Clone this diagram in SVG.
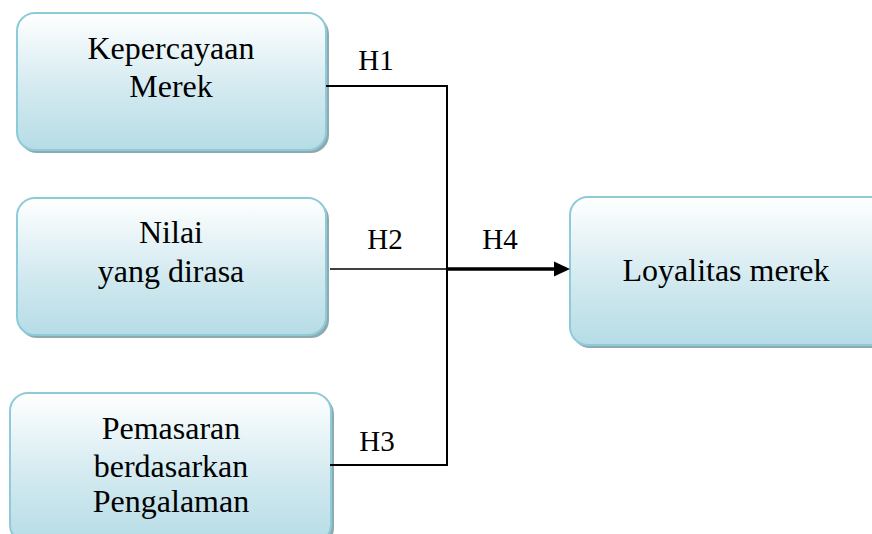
<svg xmlns="http://www.w3.org/2000/svg" width="872" height="534" viewBox="0 0 872 534">
<defs>
<linearGradient id="g" x1="0" y1="0" x2="0" y2="1">
<stop offset="0" stop-color="#ffffff"/>
<stop offset="0.55" stop-color="#d3eaf0"/>
<stop offset="1" stop-color="#b6dce6"/>
</linearGradient>
</defs>
<style>
.box{fill:url(#g);stroke:#8ecbd9;stroke-width:2}
.sh{fill:#8fa9b0}
.t{font-family:'Liberation Serif','Times New Roman',serif;font-size:32px;fill:#000;text-anchor:middle}
.h{font-family:'Liberation Serif','Times New Roman',serif;font-size:29px;fill:#000;text-anchor:middle}
.ln{stroke:#000;stroke-width:2;fill:none}
</style>
<g id="n1">
<rect class="sh" x="19" y="16" width="310" height="137" rx="18"/>
<rect class="box" x="17" y="13" width="309" height="137" rx="18"/>
<text class="t" x="171" y="59">Kepercayaan</text>
<text class="t" x="171" y="97">Merek</text>
</g>
<g id="n2">
<rect class="sh" x="19" y="201" width="310" height="137" rx="18"/>
<rect class="box" x="17" y="198" width="309" height="137" rx="18"/>
<text class="t" x="171" y="243">Nilai</text>
<text class="t" x="171" y="282">yang dirasa</text>
</g>
<g id="n3">
<rect class="sh" x="12" y="396" width="322" height="150" rx="18"/>
<rect class="box" x="10" y="393" width="321" height="150" rx="18"/>
<text class="t" x="171" y="439">Pemasaran</text>
<text class="t" x="171" y="477">berdasarkan</text>
<text class="t" x="171" y="512">Pengalaman</text>
</g>
<g id="n4">
<rect class="sh" x="572" y="200" width="320" height="148" rx="18"/>
<rect class="box" x="570" y="197" width="320" height="148" rx="18"/>
<text class="t" x="726" y="281">Loyalitas merek</text>
</g>
<g id="connectors">
<polyline class="ln" points="326,86 447,86 447,465 330,465"/>
<line x1="330" y1="269" x2="447" y2="269" stroke="#000" stroke-width="1.5"/>
<line x1="447" y1="269" x2="556" y2="269" stroke="#000" stroke-width="3.5"/>
<path d="M554,261.5 L570,269 L554,276.5 z" fill="#000"/>
<text class="h" x="376" y="70">H1</text>
<text class="h" x="385" y="249">H2</text>
<text class="h" x="500" y="249">H4</text>
<text class="h" x="377" y="451">H3</text>
</g>
</svg>
